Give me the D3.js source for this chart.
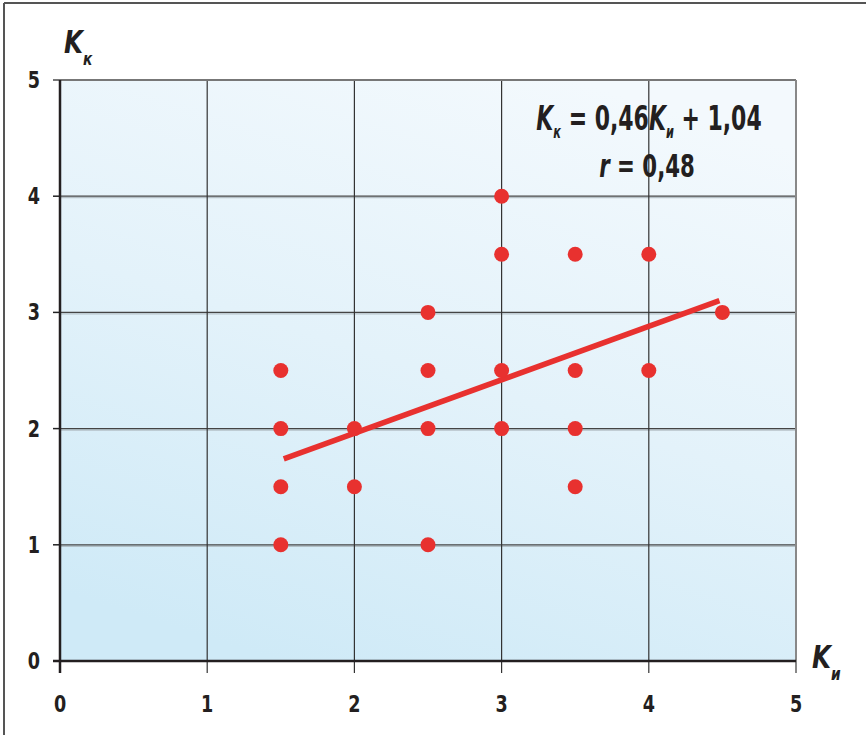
<!DOCTYPE html>
<html><head><meta charset="utf-8">
<script src="https://cdn.jsdelivr.net/npm/d3@7"></script>
<style>
body{margin:0;background:#fff;}
text{font-family:"Liberation Sans Narrow","Arial Narrow","DejaVu Sans Condensed",sans-serif;font-weight:bold;fill:#231f20;}
</style></head>
<body><svg id="c" width="866" height="735"></svg>
<script>
const xTicks = [0,1,2,3,4,5];
const yTicks = [0,1,2,3,4,5];
const xs = [1.5,1.5,1.5,1.5,2,2,2.5,2.5,2.5,2.5,3,3,3,3,3.5,3.5,3.5,3.5,4,4,4.5];
const ys = [2.5,2,1.5,1,2,1.5,3,2.5,2,1,4,3.5,2.5,2,3.5,2.5,2,1.5,3.5,2.5,3];
const slope = 0.46, intercept = 1.04;
const lineX = [1.52, 4.48];

const svg = d3.select("#c");
const x = d3.scaleLinear().domain([0,5]).range([60,796]);
const y = d3.scaleLinear().domain([0,5]).range([661,80]);

// frame
svg.append("line").attr("x1",4).attr("x2",866).attr("y1",3).attr("y2",3).attr("stroke","#555").attr("stroke-width",2);
svg.append("line").attr("x1",4).attr("x2",4).attr("y1",3).attr("y2",735).attr("stroke","#555").attr("stroke-width",2);

const defs = svg.append("defs");
const g = defs.append("linearGradient").attr("id","bg").attr("x1","0.3").attr("y1","1").attr("x2","0.7").attr("y2","0");
g.append("stop").attr("offset","0").attr("stop-color","#cfeaf7");
g.append("stop").attr("offset","0.5").attr("stop-color","#e3f2fa");
g.append("stop").attr("offset","1").attr("stop-color","#f3f9fd");
svg.append("rect").attr("x",x(0)).attr("y",y(5)).attr("width",x(5)-x(0)).attr("height",y(0)-y(5)).attr("fill","url(#bg)");

// grid
const inner = [1,2,3,4];
svg.selectAll(".hg2").data(inner).enter().append("line")
  .attr("x1",x(0)).attr("x2",x(5)).attr("y1",d=>y(d)+1.5).attr("y2",d=>y(d)+1.5).attr("stroke","#a9b4ba").attr("stroke-width",1);
svg.selectAll(".hg").data(inner).enter().append("line")
  .attr("x1",x(0)).attr("x2",x(5)).attr("y1",d=>y(d)).attr("y2",d=>y(d)).attr("stroke","#444").attr("stroke-width",1.2);
svg.selectAll(".vg").data(inner).enter().append("line")
  .attr("x1",d=>x(d)).attr("x2",d=>x(d)).attr("y1",y(5)).attr("y2",y(0)+12).attr("stroke","#333").attr("stroke-width",1.2);
// plot border top/right
svg.append("line").attr("x1",x(0)-7).attr("x2",x(5)).attr("y1",y(5)).attr("y2",y(5)).attr("stroke","#777").attr("stroke-width",2);
svg.append("line").attr("x1",x(5)).attr("x2",x(5)).attr("y1",y(5)).attr("y2",y(0)+12).attr("stroke","#888").attr("stroke-width",2);
// y ticks
svg.selectAll(".yt").data(inner).enter().append("line")
  .attr("x1",x(0)-7).attr("x2",x(0)).attr("y1",d=>y(d)).attr("y2",d=>y(d)).attr("stroke","#222").attr("stroke-width",1.5);
// axes
svg.append("line").attr("x1",x(0)-7).attr("x2",x(5)).attr("y1",y(0)).attr("y2",y(0)).attr("stroke","#231f20").attr("stroke-width",2.5);
svg.append("line").attr("x1",x(0)).attr("x2",x(0)).attr("y1",y(5)).attr("y2",y(0)+12).attr("stroke","#231f20").attr("stroke-width",2.5);

// tick labels (condensed)
svg.selectAll(".yl").data(yTicks).enter().append("text")
  .attr("transform",d=>`translate(40,${y(d)+8}) scale(0.85,1)`).attr("text-anchor","end").attr("font-size",23).text(d=>d);
svg.selectAll(".xl").data(xTicks).enter().append("text")
  .attr("transform",d=>`translate(${x(d)},712) scale(0.85,1)`).attr("text-anchor","middle").attr("font-size",23).text(d=>d);

// axis titles
const yt = svg.append("text").attr("transform","translate(64,53) scale(0.85,1)").attr("font-size",32);
yt.append("tspan").attr("font-style","italic").text("K");
yt.append("tspan").attr("font-style","italic").attr("font-size",18).attr("dy",12).text("к");
const xt = svg.append("text").attr("transform","translate(812,668) scale(0.85,1)").attr("font-size",32);
xt.append("tspan").attr("font-style","italic").text("K");
xt.append("tspan").attr("font-style","italic").attr("font-size",18).attr("dy",12).text("и");

// regression line
svg.append("line")
  .attr("x1",x(lineX[0])).attr("y1",y(slope*lineX[0]+intercept))
  .attr("x2",x(lineX[1])).attr("y2",y(slope*lineX[1]+intercept))
  .attr("stroke","#e8312f").attr("stroke-width",5.5);

// points
svg.selectAll(".pt").data(xs).enter().append("circle")
  .attr("cx",d=>x(d)).attr("cy",(d,i)=>y(ys[i])).attr("r",7.5).attr("fill","#e8312f");

// formula
const f1 = svg.append("text").attr("transform","translate(649,130) scale(0.74,1)").attr("text-anchor","middle").attr("font-size",33);
f1.append("tspan").attr("font-style","italic").text("K");
f1.append("tspan").attr("font-style","italic").attr("font-size",17).attr("dy",8).text("к");
f1.append("tspan").attr("dy",-8).text(" = 0,46");
f1.append("tspan").attr("font-style","italic").text("K");
f1.append("tspan").attr("font-style","italic").attr("font-size",17).attr("dy",8).text("и");
f1.append("tspan").attr("dy",-8).text(" + 1,04");
const f2 = svg.append("text").attr("transform","translate(647,177) scale(0.74,1)").attr("text-anchor","middle").attr("font-size",32);
f2.append("tspan").attr("font-style","italic").text("r");
f2.append("tspan").text(" = 0,48");
</script></body></html>
